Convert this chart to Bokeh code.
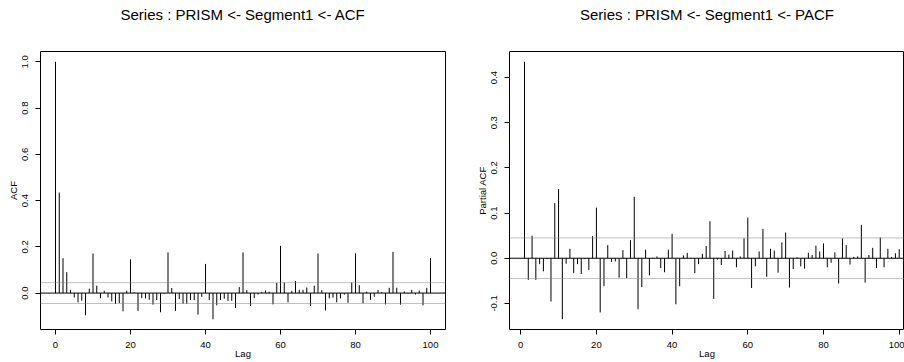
import numpy as np
from bokeh.plotting import figure
from bokeh.layouts import row
from bokeh.models import Span, FixedTicker, PrintfTickFormatter, Range1d, Title
from bokeh.embed import file_html
from bokeh.resources import INLINE

# ---------------- data ----------------
acf_lags = list(range(0, 101))
acf_vals = [1.0, 0.435, 0.151, 0.090, 0.014, -0.019, -0.040, -0.033, -0.096, 0.019,
            0.171, 0.032, -0.022, 0.010, -0.019, -0.036, -0.047, -0.043, -0.079, 0.010,
            0.146, 0.004, -0.077, -0.022, -0.023, -0.029, -0.050, -0.030, -0.083, -0.003,
            0.176, 0.022, -0.077, -0.026, -0.046, -0.047, -0.030, -0.030, -0.093, -0.016,
            0.126, -0.030, -0.113, -0.053, -0.030, -0.024, -0.034, -0.033, -0.065, 0.026,
            0.176, 0.013, -0.056, -0.022, -0.006, 0.004, 0.011, 0.006, -0.049, 0.044,
            0.204, 0.046, -0.040, 0.010, 0.052, 0.014, 0.014, 0.024, -0.056, 0.032,
            0.171, 0.013, -0.075, -0.023, -0.020, -0.040, -0.023, -0.007, -0.042, 0.046,
            0.172, 0.034, -0.044, 0.006, -0.029, -0.016, 0.013, 0.004, -0.049, 0.023,
            0.178, 0.023, -0.050, 0.007, -0.003, 0.014, -0.006, 0.011, -0.053, 0.023,
            0.151]

pacf_lags = list(range(1, 101))
pacf_vals = [0.435, -0.048, 0.050, -0.048, -0.013, -0.029, -0.002, -0.096, 0.122, 0.153,
             -0.135, -0.012, 0.021, -0.033, -0.013, -0.035, -0.002, -0.026, 0.049, 0.112,
             -0.120, -0.062, 0.029, -0.008, -0.007, -0.043, 0.018, -0.044, 0.040, 0.136,
             -0.113, -0.064, 0.019, -0.038, 0.001, 0.004, -0.022, -0.031, 0.019, 0.054,
             -0.102, -0.062, 0.006, 0.012, 0.001, -0.033, -0.013, 0.010, 0.027, 0.082,
             -0.090, -0.003, -0.015, 0.016, 0.008, 0.017, -0.020, 0.004, 0.044, 0.090,
             -0.066, -0.018, 0.015, 0.065, -0.041, 0.021, 0.017, -0.032, 0.035, 0.057,
             -0.065, -0.024, 0.002, -0.018, -0.023, 0.012, 0.007, 0.028, 0.015, 0.033,
             -0.020, -0.010, 0.013, -0.056, 0.044, 0.029, -0.014, 0.003, 0.004, 0.074,
             -0.054, 0.007, 0.023, -0.022, 0.046, -0.020, 0.021, 0.003, 0.011, 0.020]

n_obs = 1900
x_ticks = [0, 20, 40, 60, 80, 100]
acf_yticks = [0.0, 0.2, 0.4, 0.6, 0.8, 1.0]
pacf_yticks = [-0.1, 0.0, 0.1, 0.2, 0.3, 0.4]
acf_title = "Series : PRISM <- Segment1 <- ACF"
pacf_title = "Series : PRISM <- Segment1 <- PACF"

ci = 1.96 / np.sqrt(n_obs)

FONT = "Liberation Sans"
TICK_SIZE = "9.5px"
FIG_H = 362
B_TOP, B_BOTTOM = 51, 33


def padded(lo, hi, frac=0.04):
    d = (hi - lo) * frac
    return lo - d, hi + d


def make_panel(title, lags, vals, yticks, ylabel, width, b_left, b_right, x_end=None):
    x0, x1 = padded(min(lags), max(lags))
    if x_end is not None:
        x1 = x_end
    y0, y1 = padded(min(min(vals), -ci), max(max(vals), ci))
    p = figure(width=width, height=FIG_H, x_range=Range1d(x0, x1), y_range=Range1d(y0, y1),
               output_backend="svg", toolbar_location=None, title=title,
               min_border_left=b_left, min_border_right=b_right,
               min_border_top=B_TOP, min_border_bottom=B_BOTTOM)
    p.title.text_font = FONT
    p.title.text_font_size = "15px"
    p.title.text_font_style = "normal"
    p.title.text_color = "black"
    p.title.align = "center"
    p.title.standoff = 4
    # blank gap between the main title and the plotting region
    p.add_layout(Title(text=" ", text_font_size="1px", standoff=24), "above")

    p.grid.visible = False
    p.outline_line_color = "black"
    p.outline_line_width = 1
    p.background_fill_color = "white"
    p.border_fill_color = "white"

    for ax in (p.xaxis[0], p.yaxis[0]):
        ax.axis_line_color = None
        ax.major_tick_out = 5
        ax.major_tick_in = 0
        ax.minor_tick_out = 0
        ax.minor_tick_in = 0
        ax.major_tick_line_color = "black"
        ax.major_label_text_font = FONT
        ax.major_label_text_font_size = TICK_SIZE
        ax.major_label_text_color = "black"
        ax.axis_label_text_font = FONT
        ax.axis_label_text_font_size = TICK_SIZE
        ax.axis_label_text_font_style = "normal"
        ax.axis_label_text_color = "black"
    p.xaxis.ticker = FixedTicker(ticks=x_ticks)
    p.xaxis.major_label_standoff = 7
    p.xaxis.axis_label = "Lag"
    p.xaxis.axis_label_standoff = -3
    p.yaxis.ticker = FixedTicker(ticks=yticks)
    p.yaxis.formatter = PrintfTickFormatter(format="%.1f")
    p.yaxis.major_label_orientation = "vertical"
    p.yaxis.major_label_standoff = 7
    p.yaxis.axis_label = ylabel
    p.yaxis.axis_label_standoff = 1

    p.segment(x0=lags, y0=[0] * len(lags), x1=lags, y1=vals, line_color="black", line_width=1)
    p.add_layout(Span(location=0, dimension="width", line_color="black", line_width=1))
    for c in (ci, -ci):
        p.add_layout(Span(location=c, dimension="width", line_color="#808080",
                          line_width=1, line_dash="1 1"))
    return p


p1 = make_panel(acf_title, acf_lags, acf_vals, acf_yticks, "ACF", 452, 40, 7)
p2 = make_panel(pacf_title, pacf_lags, pacf_vals, pacf_yticks, "Partial ACF",
                452, 57, 0, x_end=101.4)

layout = row(p1, p2)
open("out.html", "w").write(file_html(layout, INLINE))
